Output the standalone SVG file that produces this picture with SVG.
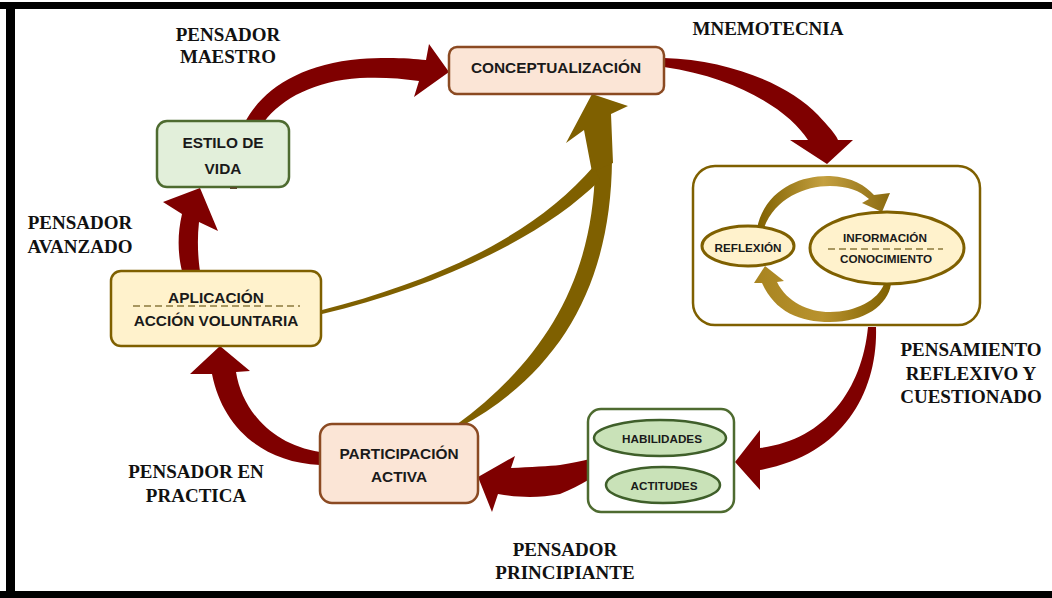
<svg xmlns="http://www.w3.org/2000/svg" width="1052" height="598" viewBox="0 0 1052 598">
<defs>
<style>
.lbl{font-family:"Liberation Serif","Times New Roman",serif;font-weight:bold;font-size:19px;fill:#111;text-anchor:middle}
.bt{font-family:"Liberation Sans",Arial,sans-serif;font-weight:bold;font-size:15.4px;fill:#1a1a1a;text-anchor:middle}
.st{font-family:"Liberation Sans",Arial,sans-serif;font-weight:bold;font-size:11.7px;fill:#1a1a1a;text-anchor:middle}
.red{fill:#7f0000}
.gold{fill:#7f6000}
.peach{fill:#fbe5d6;stroke:#8b4a22;stroke-width:2.5}
.green{fill:#e2efda;stroke:#4e6b30;stroke-width:2.5}
.cream{fill:#fff2cc;stroke:#7f6000;stroke-width:2.5}
.gell{fill:#c9e2b8;stroke:#3f5f2a;stroke-width:2.5}
.yell{fill:#fff2cc;stroke:#7f6000;stroke-width:3}
.dash{stroke:#8c7a3c;stroke-width:1.3;stroke-dasharray:7 4;fill:none}
</style>
<linearGradient id="gTop" x1="0" y1="0" x2="1" y2="0">
<stop offset="0" stop-color="#7f6000"/><stop offset="0.5" stop-color="#c4a040"/><stop offset="1" stop-color="#8a6a10"/>
</linearGradient>
<linearGradient id="gBot" x1="1" y1="0" x2="0" y2="0">
<stop offset="0" stop-color="#7f6000"/><stop offset="0.5" stop-color="#b8922e"/><stop offset="1" stop-color="#a88420"/>
</linearGradient>
</defs>
<rect x="0" y="0" width="1052" height="598" fill="#fff"/>
<g id="frame" fill="#000">
<rect x="0" y="2" width="1052" height="7"/>
<rect x="6" y="2" width="9" height="596"/>
<rect x="0" y="591" width="1052" height="7"/>
</g>
<g id="labels">
<text class="lbl" x="228" y="41">PENSADOR</text>
<text class="lbl" x="228" y="63">MAESTRO</text>
<text class="lbl" x="768" y="35">MNEMOTECNIA</text>
<text class="lbl" x="80" y="229">PENSADOR</text>
<text class="lbl" x="80" y="253">AVANZADO</text>
<text class="lbl" x="971" y="356">PENSAMIENTO</text>
<text class="lbl" x="971" y="380">REFLEXIVO Y</text>
<text class="lbl" x="971" y="403">CUESTIONADO</text>
<text class="lbl" x="196" y="478">PENSADOR EN</text>
<text class="lbl" x="196" y="502">PRACTICA</text>
<text class="lbl" x="565" y="556">PENSADOR</text>
<text class="lbl" x="565" y="579">PRINCIPIANTE</text>
</g>
<g id="connectors">
<path class="red" d="M 245,122 C 262,90 300,64 360,59 C 385,57 410,58 426,60 L 429,44 L 449,72 L 414,97 L 419,81 C 400,78 380,77 360,78 C 315,81 282,98 264,122 Z"/>
<path class="red" d="M 664,58 C 730,60 790,85 818,115 C 828,126 835,133 838,140 L 853,140 L 827,164 L 790,140 L 808,140 C 790,112 740,78 664,67 Z"/>
<path class="red" d="M 868,327 L 876,327 C 878,390 845,455 760,470 L 760,490 L 735,462 L 760,430 L 760,448 C 825,440 862,390 868,327 Z"/>
<path class="red" d="M 478,477 L 515,456 L 511,468 C 530,467 550,466 560,465 C 572,463 582,461 590,459 L 590,479 C 580,485 570,490 560,494 C 540,498 520,498 498,494 L 492,512 Z"/>
<path class="red" d="M 220,346 L 250,371 L 236,372 C 242,410 272,445 320,452 L 320,465 C 260,462 222,425 212,374 L 190,374 Z"/>
<path class="red" d="M 200,188 L 218,231 L 199,222 C 197,240 198,258 200,271 L 182,271 C 178,255 177,235 182,214 L 163,202 Z"/>
<path class="gold" d="M 456,425 C 542,362 593,282 595,168 L 612,160 C 611,282 562,372 460,427 Z"/>
<path class="gold" d="M 322,310 C 432,282 532,238 594,166 L 600,180 C 540,240 432,288 322,314 Z"/>
<path class="gold" d="M 592,94 L 628,106 L 611,114 L 613,163 L 592,172 L 584,130 L 566,143 Z"/>
</g>
<g id="conceptualizacion">
<rect class="peach" x="449" y="47" width="215" height="47" rx="8"/>
<text class="bt" x="556" y="73">CONCEPTUALIZACIÓN</text>
</g>
<g id="estilo-de-vida">
<rect class="green" x="157" y="121" width="132" height="66" rx="10"/>
<text class="bt" x="223" y="148">ESTILO DE</text>
<text class="bt" x="223" y="174">VIDA</text>
<line x1="230" y1="188" x2="237" y2="188" stroke="#5a4a2a" stroke-width="2"/>
</g>
<g id="aplicacion">
<rect class="cream" x="111" y="271" width="210" height="75" rx="10"/>
<text class="bt" x="216" y="303">APLICACIÓN</text>
<line class="dash" x1="133" y1="306" x2="300" y2="306"/>
<text class="bt" x="216" y="326">ACCIÓN VOLUNTARIA</text>
</g>
<g id="participacion-activa">
<rect class="peach" x="320" y="424" width="158" height="79" rx="12"/>
<text class="bt" x="399" y="459">PARTICIPACIÓN</text>
<text class="bt" x="399" y="482">ACTIVA</text>
</g>
<g id="habilidades-actitudes">
<rect x="588" y="409" width="146" height="103" rx="13" fill="#fff" stroke="#4e6b30" stroke-width="2.5"/>
<ellipse class="gell" cx="660" cy="438" rx="66" ry="18"/>
<text class="st" x="662" y="443">HABILIDADES</text>
<ellipse class="gell" cx="663" cy="485" rx="57" ry="18"/>
<text class="st" x="664" y="490">ACTITUDES</text>
</g>
<g id="mnemotecnia-box">
<rect x="693" y="166" width="287" height="159" rx="22" fill="#fff" stroke="#7f6000" stroke-width="2.5"/>
<path fill="url(#gTop)" d="M 757,228 C 765,190 800,175 830,176 C 852,177 866,186 874,195 L 890,193 L 882,212 L 862,203 L 869,199 C 860,191 848,186 830,186 C 805,186 775,198 764,228 Z"/>
<path fill="url(#gBot)" d="M 891,284 C 888,305 865,322 830,322 C 800,322 775,312 762,283 L 754,283 L 765,266 L 784,281 L 777,282 C 787,302 808,312 830,312 C 856,312 878,300 884,284 Z"/>
<ellipse class="yell" cx="748" cy="246" rx="46" ry="20"/>
<text class="st" x="748" y="252">REFLEXIÓN</text>
<ellipse class="yell" cx="887" cy="248" rx="77" ry="36"/>
<text class="st" x="885" y="242">INFORMACIÓN</text>
<line class="dash" x1="828" y1="249" x2="943" y2="249"/>
<text class="st" x="886" y="263">CONOCIMIENTO</text>
</g>
</svg>
